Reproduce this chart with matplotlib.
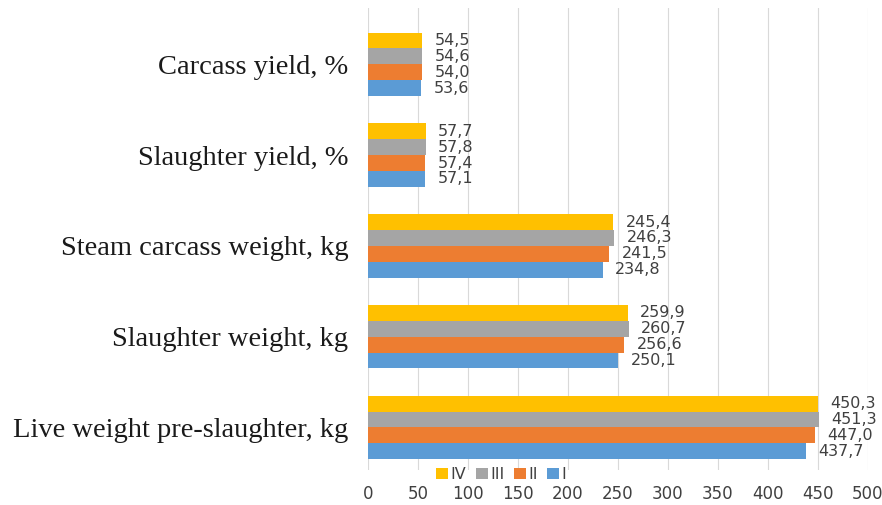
# carcass traits by group, horizontal bar chart

import matplotlib.pyplot as plt
import numpy as np

categories = ["Live weight pre-slaughter, kg", "Slaughter weight, kg",
              "Steam carcass weight, kg", "Slaughter yield, %", "Carcass yield, %"]
groups = ["I", "II", "III", "IV"]
group_I = [437.7, 250.1, 234.8, 57.1, 53.6]
group_II = [447.0, 256.6, 241.5, 57.4, 54.0]
group_III = [451.3, 260.7, 246.3, 57.8, 54.6]
group_IV = [450.3, 259.9, 245.4, 57.7, 54.5]
colors = ['#5B9BD5', '#ED7D31', '#A5A5A5', '#FFC000']

narrow = ['Liberation Sans Narrow', 'DejaVu Sans']

fig = plt.figure(figsize=(8.82, 5.05), dpi=100)
ax = fig.add_axes([0.417, 0.069, 0.567, 0.915])

y = np.arange(len(categories))
h = 0.175
series = [group_I, group_II, group_III, group_IV]
for i, (vals, name, c) in enumerate(zip(series, groups, colors)):
    pos = y + (i - 1.5) * h
    bars = ax.barh(pos, vals, height=h, color=c, label=name, zorder=3)
    for b, v in zip(bars, vals):
        ax.annotate(f"{v:.1f}".replace('.', ','), (v, b.get_y() + b.get_height() / 2),
                    xytext=(9, 0), textcoords='offset points', va='center', ha='left',
                    fontsize=11.5, family=narrow, color='#404040')

ax.set_xlim(0, 500)
ax.set_ylim(-0.47, 4.62)
ax.set_xticks(np.arange(0, 501, 50))
ax.set_xticklabels([str(t) for t in range(0, 501, 50)], family=narrow)
ax.set_yticks(y)
ax.set_yticklabels(categories, fontfamily='Liberation Serif', fontsize=20.5, color='#1a1a1a')
ax.tick_params(axis='y', length=0, pad=14)
ax.tick_params(axis='x', length=0, labelsize=12, labelcolor='#404040', pad=11)
ax.grid(axis='x', color='#d9d9d9', linewidth=0.8, zorder=0)
for s in ax.spines.values():
    s.set_visible(False)

handles, labels = ax.get_legend_handles_labels()
fig.legend(handles[::-1], labels[::-1], loc='center left', bbox_to_anchor=(0.478, 0.06),
           ncol=4, frameon=False, prop={'family': narrow, 'size': 11.5},
           handlelength=0.75, handleheight=0.75,
           handletextpad=0.15, columnspacing=0.6, labelcolor='#404040')

plt.savefig('out.png')
